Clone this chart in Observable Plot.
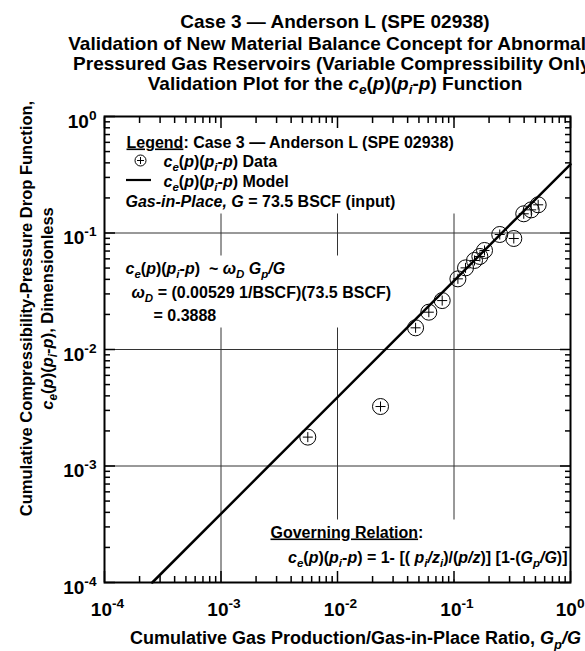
<!DOCTYPE html>
<html><head><meta charset="utf-8">
<script src="https://cdn.jsdelivr.net/npm/d3@7"></script>
<script src="https://cdn.jsdelivr.net/npm/@observablehq/plot@0.6"></script>
<style>
html,body{margin:0;padding:0;background:#fff;overflow:hidden}
#wrap{position:relative;width:585px;height:651px;overflow:hidden;font-family:"Liberation Sans",Arial,Helvetica,sans-serif}
#title{position:absolute;left:0;top:0;width:585px;height:100px;z-index:2;font-weight:bold;font-size:19px;color:#000}
#title div{position:absolute;white-space:nowrap;line-height:1;transform:translateX(-50%)}
#title sub{font-size:72%;vertical-align:-0.28em;line-height:0}
#chart{position:absolute;left:0;top:0}
</style></head><body>
<div id="wrap"><div id="chart"></div><div id="title"></div></div>
<script>
// ---------- data ----------
const titleLines = [
  "Case 3 — Anderson L (SPE 02938)",
  "Validation of New Material Balance Concept for Abnormally",
  "Pressured Gas Reservoirs (Variable Compressibility Only)",
  "Validation Plot for the <i>c</i><sub><i>e</i></sub>(<i>p</i>)(<i>p</i><sub><i>i</i></sub>-<i>p</i>) Function"
];
const decadeTicks = [1e-4, 1e-3, 1e-2, 1e-1, 1];
const tickLabels = ["10{S|-4}", "10{S|-3}", "10{S|-2}", "10{S|-1}", "10{S|0}"];
// measured data points: Gp/G and ce(p)(pi-p)
const dataGpG = [0.00556, 0.0234, 0.0468, 0.0608, 0.0792, 0.108, 0.1256, 0.150, 0.1667, 0.1828, 0.247, 0.326, 0.397, 0.460, 0.528];
const dataCe  = [0.00177, 0.00324, 0.01535, 0.0209, 0.0263, 0.0404, 0.0502, 0.0581, 0.0629, 0.0708, 0.0971, 0.0897, 0.1462, 0.158, 0.1746];
// model line endpoints (ce = 0.3888 Gp/G)
const modelGpG = [2.572e-4, 1];
const modelCe  = [1e-4, 0.3888];
const xLabel = "Cumulative Gas Production/Gas-in-Place Ratio, {i|G}{is|p}{i|/G}";
const yLabel1 = "Cumulative Compressibility-Pressure Drop Function,";
const yLabel2 = "{i|c}{is|e}({i|p})({i|p}{is|i}-{i|p}), Dimensionless";
const CE = "{i|c}{is|e}({i|p})({i|p}{is|i}-{i|p})";
const legendLines = [
  "{u|Legend}: Case 3 — Anderson L (SPE 02938)",
  CE + " Data",
  CE + " Model",
  "{i|Gas-in-Place, G} = 73.5 BSCF (input)"
];
const omegaLines = [
  CE + "  ~ {i|ω}{is|D} {i|G}{is|p}{i|/G}",
  "{i|ω}{is|D} = (0.00529 1/BSCF)(73.5 BSCF)",
  "= 0.3888"
];
const governLines = [
  "{u|Governing Relation}:",
  CE + " = 1- [( {i|p}{is|i}{i|/z}{is|i})/({i|p/z})] [1-({i|G}{is|p}{i|/G})]"
];

// ---------- title ----------
const titleEl = document.getElementById("title");
const titleBase = [28, 50, 70, 90];
titleLines.forEach((t, i) => {
  const d = document.createElement("div");
  d.innerHTML = t;
  d.style.left = "335px";
  d.style.top = (titleBase[i] - 0.8465 * 19) + "px";
  titleEl.appendChild(d);
});

// ---------- chart ----------
const pts = dataGpG.map((x, i) => ({x, y: dataCe[i]}));
const model = modelGpG.map((x, i) => ({x, y: modelCe[i]}));
const minorTicks = d3.scaleLog().domain([1e-4, 1]).ticks().filter(v => !decadeTicks.some(d => Math.abs(d - v) / d < 1e-9));
const font = "Liberation Sans, Arial, Helvetica, sans-serif";

const plusSym = {draw(ctx, size) { const r = Math.sqrt(size / Math.PI); ctx.moveTo(-r, 0); ctx.lineTo(r, 0); ctx.moveTo(0, -r); ctx.lineTo(0, r); }};
const dashSym = {draw(ctx, size) { const r = Math.sqrt(size / Math.PI); ctx.moveTo(-r, 0); ctx.lineTo(r, 0); }};

const annot = [];
function ann(group, text, opts) { annot.push({group, text}); return Plot.text([text], {text: d => d, lineAnchor: "bottom", textAnchor: "start", fontSize: 16, fontWeight: "bold", fill: "#000", ...opts}); }

const marks = [
  Plot.gridX(decadeTicks, {stroke: "#333", strokeOpacity: 1, strokeWidth: 1}),
  Plot.gridY(decadeTicks, {stroke: "#333", strokeOpacity: 1, strokeWidth: 1}),
  // legend
  ann("legend", legendLines[0], {frameAnchor: "top-left", dx: 22, dy: 31}),
  ann("legend", legendLines[1], {frameAnchor: "top-left", dx: 59, dy: 50}),
  ann("legend", legendLines[2], {frameAnchor: "top-left", dx: 59, dy: 70}),
  ann("legend", legendLines[3], {frameAnchor: "top-left", dx: 21, dy: 90}),
  Plot.dot([0], {frameAnchor: "top-left", dx: 36, dy: 44, r: 5.5, stroke: "#000", strokeWidth: 1, fill: "none"}),
  Plot.dot([0], {frameAnchor: "top-left", dx: 36, dy: 44, r: 3.5, symbol: plusSym, stroke: "#000", strokeWidth: 1}),
  Plot.dot([0], {frameAnchor: "top-left", dx: 34, dy: 63.5, r: 12.5, symbol: dashSym, stroke: "#000", strokeWidth: 2.2}),
  // omega
  ann("omega", omegaLines[0], {frameAnchor: "top-left", dx: 21, dy: 157}),
  ann("omega", omegaLines[1], {frameAnchor: "top-left", dx: 27, dy: 181}),
  ann("omega", omegaLines[2], {frameAnchor: "top-left", dx: 49, dy: 204}),
  // governing relation
  ann("govern", governLines[0], {frameAnchor: "bottom-left", dx: 166, dy: -45}),
  ann("govern", governLines[1], {frameAnchor: "bottom-right", dx: -3, dy: -20, textAnchor: "end"}),
  // model & data
  Plot.line(model, {x: "x", y: "y", stroke: "#000", strokeWidth: 2.5}),
  Plot.dot(pts, {x: "x", y: "y", r: 8, stroke: "#000", strokeWidth: 1, fill: "none"}),
  Plot.dot(pts, {x: "x", y: "y", r: 5, symbol: plusSym, stroke: "#000", strokeWidth: 1}),
  // frame & ticks
  Plot.frame({stroke: "#000", strokeWidth: 2}),
  Plot.axisX(minorTicks, {anchor: "bottom", tickSize: -6, tickFormat: () => "", label: null, strokeWidth: 1.5}),
  Plot.axisX(minorTicks, {anchor: "top", tickSize: -6, tickFormat: () => "", label: null, strokeWidth: 1.5}),
  Plot.axisY(minorTicks, {anchor: "left", tickSize: -6, tickFormat: () => "", label: null, strokeWidth: 1.5}),
  Plot.axisY(minorTicks, {anchor: "right", tickSize: -6, tickFormat: () => "", label: null, strokeWidth: 1.5}),
  Plot.axisX(decadeTicks, {anchor: "bottom", tickSize: -11, tickFormat: () => "", label: null, strokeWidth: 1.5}),
  Plot.axisX(decadeTicks, {anchor: "top", tickSize: -11, tickFormat: () => "", label: null, strokeWidth: 1.5}),
  Plot.axisY(decadeTicks, {anchor: "left", tickSize: -11, tickFormat: () => "", label: null, strokeWidth: 1.5}),
  Plot.axisY(decadeTicks, {anchor: "right", tickSize: -11, tickFormat: () => "", label: null, strokeWidth: 1.5}),
  // tick labels
  Plot.text(decadeTicks.slice(0, 4), {x: d => d, text: (d, i) => tickLabels[i], frameAnchor: "bottom", dy: 33, dx: 3, lineAnchor: "bottom", textAnchor: "middle", fontSize: 19, fontWeight: "bold"}),
  Plot.text(decadeTicks.slice(4), {x: d => d, text: () => tickLabels[4], frameAnchor: "bottom", dy: 33, dx: 14, lineAnchor: "bottom", textAnchor: "end", fontSize: 19, fontWeight: "bold"}),
  Plot.text(decadeTicks, {y: d => d, text: (d, i) => tickLabels[i], frameAnchor: "left", dx: -8, dy: 11, lineAnchor: "bottom", textAnchor: "end", fontSize: 19, fontWeight: "bold"}),
  // axis labels
  Plot.text([xLabel], {text: d => d, frameAnchor: "bottom", dx: 18, dy: 61, lineAnchor: "bottom", textAnchor: "middle", fontSize: 18, fontWeight: "bold"}),
  Plot.text([yLabel1], {text: d => d, frameAnchor: "left", dx: -78, dy: -41, rotate: -90, lineAnchor: "middle", textAnchor: "middle", fontSize: 16.5, fontWeight: "bold"}),
  Plot.text([yLabel2], {text: d => d, frameAnchor: "left", dx: -57, dy: -41, rotate: -90, lineAnchor: "middle", textAnchor: "middle", fontSize: 16.5, fontWeight: "bold"})
];

const plot = Plot.plot({
  width: 585, height: 651,
  marginTop: 116, marginLeft: 104, marginRight: 15, marginBottom: 69,
  style: {fontFamily: font, fontWeight: "bold", color: "#000", background: "#fff", overflow: "visible"},
  x: {type: "log", domain: [1e-4, 1], axis: null},
  y: {type: "log", domain: [1e-4, 1], axis: null},
  marks
});
document.getElementById("chart").appendChild(plot);

// ---------- rich text (italic / sub / superscript / underline) ----------
const NS = "http://www.w3.org/2000/svg";
function richify(el) {
  const s = el.textContent;
  if (!s.includes("{")) return;
  const fs = parseFloat(getComputedStyle(el).fontSize) || 14;
  el.textContent = "";
  const re = /\{([a-zA-Z]+)\|([^}]*)\}/g;
  const segs = []; let last = 0, m;
  while ((m = re.exec(s))) { if (m.index > last) segs.push({f: "", t: s.slice(last, m.index)}); segs.push({f: m[1], t: m[2]}); last = re.lastIndex; }
  if (last < s.length) segs.push({f: "", t: s.slice(last)});
  let cur = 0;
  for (const seg of segs) {
    const ts = document.createElementNS(NS, "tspan");
    const sub = /s/.test(seg.f), sup = /S/.test(seg.f);
    const off = sub ? 0.28 * fs : sup ? -0.42 * fs : 0;
    if (off !== cur) ts.setAttribute("dy", off - cur);
    cur = off;
    if (sub || sup) ts.setAttribute("font-size", fs * 0.72);
    if (/i/.test(seg.f)) ts.setAttribute("font-style", "italic");
    if (/u/.test(seg.f)) ts.setAttribute("text-decoration", "underline");
    ts.textContent = seg.t;
    el.appendChild(ts);
  }
}
const texts = Array.from(plot.querySelectorAll("text"));
const groupOf = new Map(annot.map(a => [a.text, a.group]));
const tagged = texts.map(t => ({el: t, g: groupOf.get(t.textContent)}));
texts.forEach(richify);

// ---------- white boxes behind annotation blocks (mask the grid like the original) ----------
const svgRect = plot.getBoundingClientRect();
const pads = {legend: {l: 30, t: 14, r: 12, b: 4}, omega: {l: 12, t: 4, r: 6, b: 4}, govern: {l: 6, t: 4, r: 6, b: 10}};
const boxes = {};
for (const {el, g} of tagged) {
  if (!g) continue;
  const r = el.getBoundingClientRect();
  const b = boxes[g] || (boxes[g] = {x0: Infinity, y0: Infinity, x1: -Infinity, y1: -Infinity});
  b.x0 = Math.min(b.x0, r.left - svgRect.left); b.y0 = Math.min(b.y0, r.top - svgRect.top);
  b.x1 = Math.max(b.x1, r.right - svgRect.left); b.y1 = Math.max(b.y1, r.bottom - svgRect.top);
}
const firstAnn = tagged.find(t => t.g);
const anchorNode = firstAnn ? firstAnn.el.closest("g") : null;
for (const g in boxes) {
  const b = boxes[g], p = pads[g];
  const rect = document.createElementNS(NS, "rect");
  rect.setAttribute("x", b.x0 - p.l); rect.setAttribute("y", b.y0 - p.t);
  rect.setAttribute("width", b.x1 - b.x0 + p.l + p.r); rect.setAttribute("height", b.y1 - b.y0 + p.t + p.b);
  rect.setAttribute("fill", "#fff");
  if (anchorNode) plot.insertBefore(rect, anchorNode);
}
</script>
</body></html>
